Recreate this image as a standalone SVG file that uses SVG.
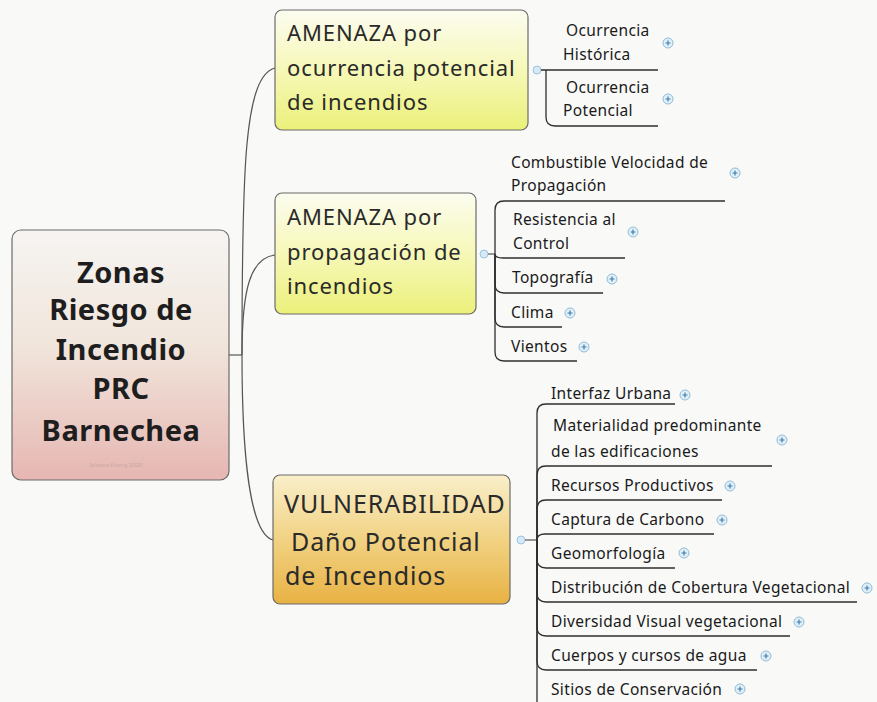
<svg xmlns="http://www.w3.org/2000/svg" xmlns:xlink="http://www.w3.org/1999/xlink" width="877" height="702" viewBox="0 0 877 702">
<defs>
<linearGradient id="gRoot" x1="0" y1="0" x2="0" y2="1">
<stop offset="0" stop-color="#f6f4f2"/><stop offset="0.45" stop-color="#f1e6dc"/><stop offset="1" stop-color="#e6b6b2"/>
</linearGradient>
<linearGradient id="gYel" x1="0" y1="0" x2="0" y2="1">
<stop offset="0" stop-color="#fcfcf0"/><stop offset="0.5" stop-color="#f6f8b8"/><stop offset="1" stop-color="#ebf07a"/>
</linearGradient>
<linearGradient id="gOr" x1="0" y1="0" x2="0" y2="1">
<stop offset="0" stop-color="#f9efca"/><stop offset="0.5" stop-color="#f1d283"/><stop offset="1" stop-color="#e8b243"/>
</linearGradient>
<g id="plus">
<circle r="5" fill="#e2eff7" stroke="#8fbcd8" stroke-width="1"/>
<path d="M-2.5,0 H2.5 M0,-2.5 V2.5" stroke="#3d7fb0" stroke-width="1.2"/>
</g>
<g id="dot"><circle r="4" fill="#d7e9f4" stroke="#9cc6df" stroke-width="1"/></g>
</defs>
<style>
.box{stroke:#6b6b6b;stroke-width:1.2}
.main{font-family:"Noto Sans","Open Sans",sans-serif;font-size:22px;letter-spacing:0.9px;fill:#2a2a2a}
.vul{font-size:25px;letter-spacing:0.9px}
.root{font-family:"Noto Sans","Open Sans",sans-serif;font-size:29px;letter-spacing:0.5px;font-weight:bold;fill:#1e1e1e;text-anchor:middle}
.sub{font-family:"Noto Sans","Open Sans",sans-serif;font-size:15.5px;letter-spacing:0.35px;fill:#1a1a1a}
.con{fill:none;stroke:#555;stroke-width:1.2}
.ul{fill:none;stroke:#2e2e2e;stroke-width:1.3}
</style>
<rect width="877" height="702" fill="#f9f9f8"/>

<g id="connectors">
<path class="con" d="M229,355 H242"/>
<path class="con" d="M242,355 C242,170 244,76 275,68"/>
<path class="con" d="M242,355 C242,290 250,258 275,255"/>
<path class="con" d="M242,355 C242,455 250,534 273,540"/>
<use xlink:href="#dot" x="537" y="70"/>
<path class="ul" d="M541,70 H658"/>
<path class="ul" d="M546,70 L546,117 Q546,126 555,126 H658"/>
<use xlink:href="#dot" x="484" y="254"/>
<path class="con" d="M488,254 H495"/>
<path class="ul" d="M495,254 L495,210 Q495,201 504,201 H725"/>
<path class="ul" d="M495,254 Q495,258 503,258 H625"/>
<path class="ul" d="M495,254 L495,284 Q495,293 504,293 H603"/>
<path class="ul" d="M495,254 L495,318 Q495,327 504,327 H562"/>
<path class="ul" d="M495,254 L495,352 Q495,361 504,361 H577"/>
<use xlink:href="#dot" x="521" y="540"/>
<path class="con" d="M525,540 H537"/>
<path class="ul" d="M537,540 L537,413 Q537,404 546,404 H675"/>
<path class="ul" d="M537,540 L537,475 Q537,466 546,466 H772"/>
<path class="ul" d="M537,540 L537,509 Q537,500 546,500 H722"/>
<path class="ul" d="M537,540 Q537,534 545,534 H714"/>
<path class="ul" d="M537,540 L537,559 Q537,568 546,568 H675"/>
<path class="ul" d="M537,540 L537,593 Q537,602 546,602 H857"/>
<path class="ul" d="M537,540 L537,627 Q537,636 546,636 H790"/>
<path class="ul" d="M537,540 L537,661 Q537,670 546,670 H757"/>
<path class="ul" d="M537,540 L537,702"/>
</g>

<g id="root">
<rect class="box" x="12" y="230" width="217" height="250" rx="9" fill="url(#gRoot)"/>
<text class="root" x="121" y="283">Zonas</text>
<text class="root" x="121" y="320">Riesgo de</text>
<text class="root" x="121" y="360">Incendio</text>
<text class="root" x="121" y="399">PRC</text>
<text class="root" x="121" y="441">Barnechea</text>
<text x="116" y="467" font-family="Noto Sans, sans-serif" font-size="6" fill="#c9a7a3" text-anchor="middle">Isidora Krong 2020</text>
</g>

<g id="amenaza-ocurrencia">
<rect class="box" x="275" y="10" width="253" height="120" rx="7" fill="url(#gYel)"/>
<text class="main" x="287" y="41">AMENAZA por</text>
<text class="main" x="287" y="76">ocurrencia potencial</text>
<text class="main" x="287" y="110">de incendios</text>
</g>

<g id="amenaza-propagacion">
<rect class="box" x="275" y="193" width="201" height="121" rx="7" fill="url(#gYel)"/>
<text class="main" x="287" y="225">AMENAZA por</text>
<text class="main" x="287" y="260">propagación de</text>
<text class="main" x="287" y="294">incendios</text>
</g>

<g id="vulnerabilidad">
<rect class="box" x="273" y="475" width="237" height="129" rx="7" fill="url(#gOr)"/>
<text class="main vul" x="284" y="513">VULNERABILIDAD</text>
<text class="main vul" x="291" y="551">Daño Potencial</text>
<text class="main vul" x="285" y="585">de Incendios</text>
</g>

<g id="ocurrencia-historica">
<text class="sub" x="566" y="36">Ocurrencia</text>
<text class="sub" x="563" y="60">Histórica</text>
<use xlink:href="#plus" x="668" y="43"/>
</g>
<g id="ocurrencia-potencial">
<text class="sub" x="566" y="93">Ocurrencia</text>
<text class="sub" x="563" y="116">Potencial</text>
<use xlink:href="#plus" x="668" y="99"/>
</g>

<g id="combustible">
<text class="sub" x="511" y="168">Combustible Velocidad de</text>
<text class="sub" x="511" y="191">Propagación</text>
<use xlink:href="#plus" x="735" y="173"/>
</g>
<g id="resistencia">
<text class="sub" x="513" y="225">Resistencia al</text>
<text class="sub" x="513" y="249">Control</text>
<use xlink:href="#plus" x="633" y="232"/>
</g>
<g id="topografia">
<text class="sub" x="512" y="283">Topografía</text>
<use xlink:href="#plus" x="612" y="279"/>
</g>
<g id="clima">
<text class="sub" x="511" y="318">Clima</text>
<use xlink:href="#plus" x="570" y="313"/>
</g>
<g id="vientos">
<text class="sub" x="511" y="352">Vientos</text>
<use xlink:href="#plus" x="584" y="347"/>
</g>

<g id="interfaz">
<text class="sub" x="551" y="399">Interfaz Urbana</text>
<use xlink:href="#plus" x="685" y="395"/>
</g>
<g id="materialidad">
<text class="sub" x="553" y="431">Materialidad predominante</text>
<text class="sub" x="551" y="457">de las edificaciones</text>
<use xlink:href="#plus" x="782" y="440"/>
</g>
<g id="recursos">
<text class="sub" x="551" y="491">Recursos Productivos</text>
<use xlink:href="#plus" x="730" y="486"/>
</g>
<g id="captura">
<text class="sub" x="551" y="525">Captura de Carbono</text>
<use xlink:href="#plus" x="722" y="520"/>
</g>
<g id="geomorfologia">
<text class="sub" x="551" y="559">Geomorfología</text>
<use xlink:href="#plus" x="684" y="553"/>
</g>
<g id="distribucion">
<text class="sub" x="551" y="593">Distribución de Cobertura Vegetacional</text>
<use xlink:href="#plus" x="867" y="588"/>
</g>
<g id="diversidad">
<text class="sub" x="551" y="627">Diversidad Visual vegetacional</text>
<use xlink:href="#plus" x="799" y="622"/>
</g>
<g id="cuerpos">
<text class="sub" x="551" y="661">Cuerpos y cursos de agua</text>
<use xlink:href="#plus" x="766" y="656"/>
</g>
<g id="sitios">
<text class="sub" x="551" y="695">Sitios de Conservación</text>
<use xlink:href="#plus" x="740" y="689"/>
</g>
</svg>
